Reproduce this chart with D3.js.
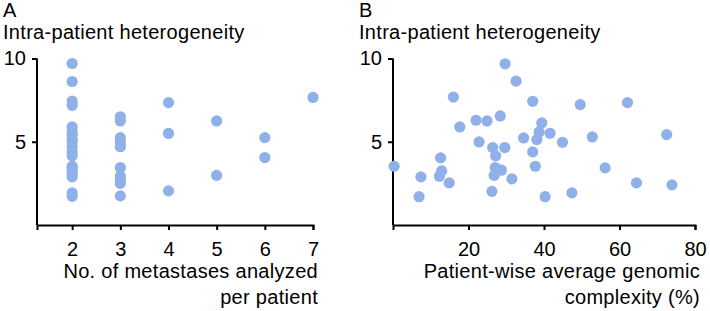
<!DOCTYPE html>
<html>
<head>
<meta charset="utf-8">
<script src="https://cdn.jsdelivr.net/npm/d3@7"></script>
<style>
  body { margin: 0; background: #fff; }
  text { font-family: "Liberation Sans", Arial, sans-serif; fill: #000; }
  .axis path, .axis line { stroke: #000; stroke-width: 2px; }
  .axis text { font-size: 20px; }
  .lbl { font-size: 20px; letter-spacing: 0.3px; }
</style>
</head>
<body>
<div id="chart"></div>
<script>
/* two scatter panels: A (no. of metastases) and B (genomic complexity) */
const width = 710, height = 311;
const dotColor = "#8fb0e8";

// panel A: no. of metastases analyzed per patient vs heterogeneity
const metCount = [2,2,2,2,2,2,2,2,2,2,2,2,2,2,2,2,2,2,2,
                  3,3,3,3,3,3,3,3,3,3,
                  4,4,4, 5,5, 6,6, 7];
const hetA = [9.70,8.62,7.44,7.19,5.89,5.59,5.43,5.13,4.99,4.65,4.39,4.15,3.53,3.43,3.29,3.10,2.89,1.93,1.72,
              6.50,6.25,5.25,4.95,4.70,3.45,2.95,2.70,2.50,1.75,
              7.35,5.50,2.05, 6.25,2.98, 5.25,4.05, 7.66];
const xTicksA = [2,3,4,5,6,7];

// panel B: patient-wise average genomic complexity (%) vs heterogeneity
const complexity = [29.7,32.6,16.0,37.0,17.7,22.0,24.9,28.4,39.4,38.7,38.1,41.6,22.8,26.4,29.6,27.2,34.6,37.0,37.7,0.3,
                    12.6,7.4,12.9,12.3,14.9,6.9,27.1,28.7,26.8,31.5,26.2,40.3,49.6,62.1,52.8,72.5,44.9,56.2,64.5,73.9,47.4];
const hetB = [9.68,8.64,7.68,7.43,5.89,6.29,6.25,6.55,6.13,5.59,5.13,5.51,4.99,4.65,4.65,4.15,5.23,4.39,3.53,3.53,
              4.03,2.89,3.25,2.93,2.53,1.70,3.45,3.29,2.98,2.77,2.02,1.70,7.23,7.35,5.29,5.43,4.97,3.43,2.53,2.41,1.93];
const xTicksB = [20,40,60,80];
const yTicks = [5,10];

const svg = d3.select("#chart")
    .append("svg")
    .attr("width", width)
    .attr("height", height);

// shared y scale
let y = d3.scaleLinear().domain([0, 10]).range([225, 58.5]);

function panel(opts) {
    const g = svg.append("g");

    g.append("text").attr("class", "lbl").attr("x", opts.left - 34).attr("y", 17).text(opts.letter);
    g.append("text").attr("class", "lbl").attr("x", opts.left - 34).attr("y", 39).text("Intra-patient heterogeneity");

    g.append("g")
      .attr("class", "axis")
      .attr("transform", `translate(${opts.x.range()[0]},0)`)
      .call(d3.axisLeft(y).tickValues(yTicks).tickFormat(d3.format("d")).tickSizeOuter(0).tickSize(5).tickPadding(6))
      .call(a => a.select(".domain").attr("d", `M0,${y(0)}V${y(10)}`));

    g.append("g")
      .attr("class", "axis")
      .attr("transform", `translate(0,${y(0)})`)
      .call(d3.axisBottom(opts.x).tickValues(opts.ticks).tickFormat(d3.format("d")).tickSizeOuter(0).tickSize(5).tickPadding(12));

    g.selectAll("text.xt")
      .data(opts.title)
      .join("text")
      .attr("class", "lbl")
      .attr("text-anchor", "end")
      .attr("x", opts.x.range()[1] + 5)
      .attr("y", (d, i) => 278 + i * 26)
      .text(d => d);

    g.selectAll("circle")
      .data(opts.xs.map((v, i) => [v, opts.ys[i]]))
      .join("circle")
      .attr("cx", d => opts.x(d[0]))
      .attr("cy", d => y(d[1]))
      .attr("r", 5.6)
      .attr("fill", dotColor);
}

let xA = d3.scaleLinear().domain([1.27, 7]).range([37, 313]);
let xB = d3.scaleLinear().domain([0, 80]).range([393, 695]);

panel({ letter: "A", left: 37, x: xA, ticks: xTicksA, xs: metCount, ys: hetA,
        title: ["No. of metastases analyzed", "per patient"] });
panel({ letter: "B", left: 393, x: xB, ticks: xTicksB, xs: complexity, ys: hetB,
        title: ["Patient-wise average genomic", "complexity (%)"] });
</script>
</body>
</html>
